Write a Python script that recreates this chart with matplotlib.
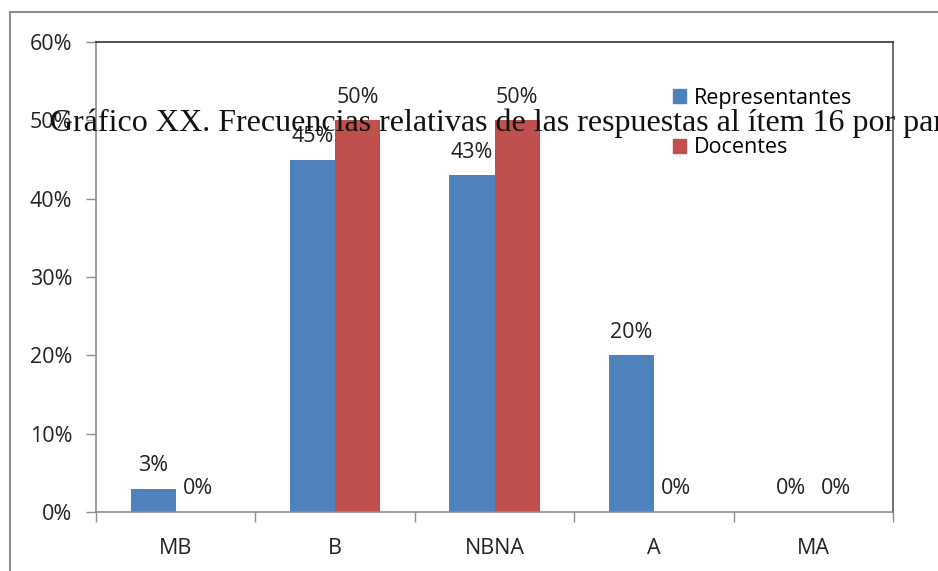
import matplotlib
matplotlib.use("Agg")
import matplotlib.pyplot as plt
from matplotlib.patches import Rectangle, Patch
from matplotlib.ticker import PercentFormatter, FixedLocator, NullFormatter
import numpy as np

# data
categories = ["MB", "B", "NBNA", "A", "MA"]
representantes = [0.03, 0.45, 0.43, 0.20, 0.00]
docentes = [0.00, 0.50, 0.50, 0.00, 0.00]
title = "Gráfico XX. Frecuencias relativas de las respuestas al ítem 16 por parte de"

BLUE = "#4F81BD"
RED = "#C0504D"
SANS = "Open Sans"
FS = 15.5

fig = plt.figure(figsize=(9.38, 5.71), dpi=100)
ax = fig.add_axes([96 / 938, 1 - 512 / 571, (893 - 96) / 938, (512 - 42) / 571])

# outer chart frame (cropped on right/bottom)
fig.patches.append(Rectangle((10 / 938, -0.1), 1.2, 1 - 12 / 571 + 0.1,
                             transform=fig.transFigure, fill=False,
                             edgecolor="#8c8c8c", linewidth=1.5))

x = np.arange(len(categories))
w = 0.283
b1 = ax.bar(x - w / 2, representantes, w, color=BLUE, label="Representantes")
b2 = ax.bar(x + w / 2, docentes, w, color=RED, label="Docentes")
for bars in (b1, b2):
    ax.bar_label(bars, fmt="{:.0%}", padding=9, fontsize=FS,
                 fontfamily=SANS, color="#222222")

ax.set_xlim(-0.5, len(categories) - 0.5)
ax.set_ylim(0, 0.6)
ax.set_yticks(np.arange(0, 0.61, 0.1))
ax.yaxis.set_major_formatter(PercentFormatter(1.0, decimals=0))
ax.set_xticks(x)
ax.set_xticklabels(categories)
ax.xaxis.set_minor_locator(FixedLocator(np.arange(-0.5, len(categories), 1.0)))
ax.xaxis.set_minor_formatter(NullFormatter())
ax.tick_params(axis="x", which="major", length=0, pad=19, labelsize=FS)
ax.tick_params(axis="x", which="minor", length=7, color="#8c8c8c", width=1)
ax.tick_params(axis="y", length=7, color="#8c8c8c", width=1, pad=10, labelsize=FS)
for lab in ax.get_xticklabels() + ax.get_yticklabels():
    lab.set_fontfamily(SANS)
    lab.set_color("#222222")

ax.spines["left"].set_color("#8c8c8c")
ax.spines["bottom"].set_color("#8c8c8c")
ax.spines["top"].set_color("#333333")
ax.spines["right"].set_color("#555555")
for s in ax.spines.values():
    s.set_linewidth(1.2)

handles = [Patch(color=BLUE, label="Representantes"), Patch(color=RED, label="Docentes")]
fig.legend(handles=handles, loc="upper left", bbox_to_anchor=(673 / 938, 1 - 88 / 571),
           frameon=False, borderpad=0, borderaxespad=0, handlelength=0.62,
           handleheight=0.62, handletextpad=0.35, labelspacing=1.31,
           prop={"family": SANS, "size": FS})

fig.text(50 / 938, 1 - 131 / 571, title, fontfamily="Liberation Serif",
         fontsize=23, color="#111111", va="baseline", ha="left", zorder=10)

fig.savefig("out.png", dpi=100)
